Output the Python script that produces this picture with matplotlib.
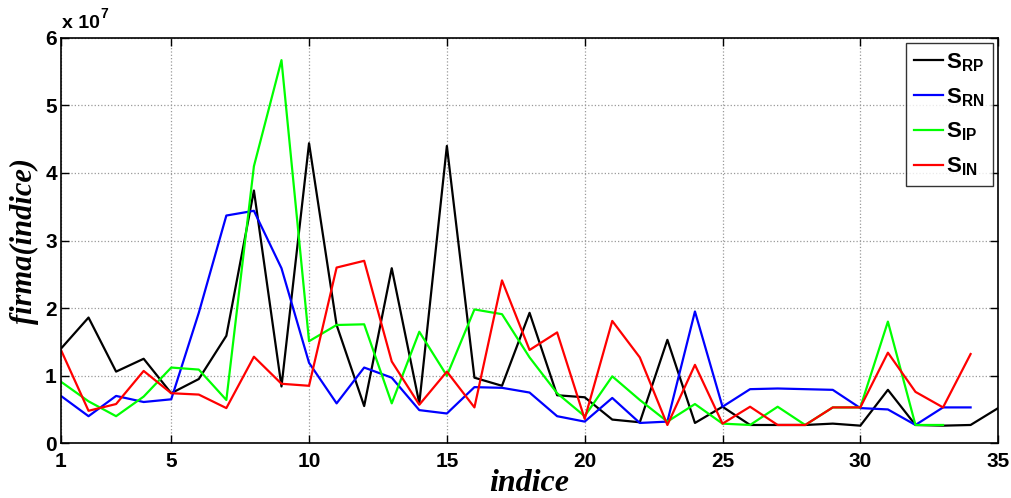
import numpy as np
import matplotlib.pyplot as plt
from matplotlib.ticker import FuncFormatter

plt.rcParams['font.family'] = ['Liberation Sans', 'DejaVu Sans']
plt.rcParams['mathtext.fontset'] = 'custom'
plt.rcParams['mathtext.rm'] = 'Liberation Sans:bold'
plt.rcParams['mathtext.bf'] = 'Liberation Sans:bold'
plt.rcParams['mathtext.it'] = 'Liberation Sans:bold'

SCALE = 1e7

# values (units of 1e7)
s_rp = np.array([1.40, 1.86, 1.06, 1.25, 0.74, 0.95, 1.59, 3.74, 0.84, 4.44,
                 1.75, 0.55, 2.59, 0.59, 4.40, 0.97, 0.85, 1.93, 0.71, 0.68,
                 0.35, 0.31, 1.53, 0.30, 0.54, 0.27, 0.27, 0.27, 0.29, 0.26,
                 0.79, 0.27, 0.26, 0.27, 0.52]) * SCALE
s_rn = np.array([0.70, 0.40, 0.70, 0.61, 0.65, 1.93, 3.37, 3.44, 2.59, 1.19,
                 0.59, 1.12, 0.97, 0.49, 0.44, 0.83, 0.82, 0.75, 0.40, 0.32,
                 0.67, 0.30, 0.32, 1.95, 0.54, 0.80, 0.81, 0.80, 0.79, 0.52,
                 0.50, 0.27, 0.53, 0.53]) * SCALE
s_ip = np.array([0.91, 0.62, 0.40, 0.69, 1.12, 1.09, 0.64, 4.10, 5.67, 1.51,
                 1.75, 1.76, 0.59, 1.65, 1.00, 1.98, 1.91, 1.27, 0.74, 0.40,
                 0.99, 0.64, 0.32, 0.58, 0.29, 0.27, 0.54, 0.27, 0.53, 0.53,
                 1.80, 0.27, 0.27]) * SCALE
s_in = np.array([1.38, 0.48, 0.58, 1.07, 0.74, 0.72, 0.52, 1.28, 0.88, 0.85,
                 2.60, 2.70, 1.21, 0.57, 1.06, 0.53, 2.41, 1.38, 1.64, 0.36,
                 1.81, 1.27, 0.27, 1.16, 0.29, 0.54, 0.27, 0.27, 0.53, 0.53,
                 1.34, 0.76, 0.53, 1.32]) * SCALE

labels = [r'$\mathrm{S_{RP}}$', r'$\mathrm{S_{RN}}$', r'$\mathrm{S_{IP}}$', r'$\mathrm{S_{IN}}$']
colors = ['k', 'b', '#00ff00', 'r']
x_ticks = [1, 5, 10, 15, 20, 25, 30, 35]
y_ticks = [0, 1, 2, 3, 4, 5, 6]

fig = plt.figure(figsize=(10.11, 4.98), dpi=100)
ax = fig.add_axes([0.0603, 0.110, 0.927, 0.814])

for series, lab, col in zip([s_rp, s_rn, s_ip, s_in], labels, colors):
    ax.plot(np.arange(1, len(series) + 1), series, color=col, linewidth=1.6, label=lab)

ax.set_xlim(1, 35)
ax.set_ylim(0, 6 * SCALE)
ax.set_xticks(x_ticks)
ax.set_yticks([v * SCALE for v in y_ticks])
ax.yaxis.set_major_formatter(FuncFormatter(lambda v, p: f'{v / SCALE:.0f}'))
ax.grid(True, linestyle=':', color='#999999', linewidth=0.9)
ax.tick_params(direction='in', top=True, right=True, length=6, width=1,
               labelsize=15, pad=3)
ax.tick_params(axis='x', pad=6)
for lbl in ax.get_xticklabels() + ax.get_yticklabels():
    lbl.set_fontweight('bold')
for sp in ax.spines.values():
    sp.set_linewidth(1.2)

ax.set_xlabel('indice', family='Liberation Serif', style='italic', weight='bold',
              fontsize=23, labelpad=-1)
ax.set_ylabel('firma(indice)', family='Liberation Serif', style='italic', weight='bold',
              fontsize=22, labelpad=4)

fig.text(0.061, 0.935, 'x 10', fontsize=14, weight='bold', ha='left', va='bottom')
fig.text(0.099, 0.958, '7', fontsize=10, weight='bold', ha='left', va='bottom')

leg = ax.legend(loc='upper right', fontsize=16, frameon=True, fancybox=False,
                edgecolor='k', handlelength=1.3, borderaxespad=0.25,
                labelspacing=0.55, handletextpad=0.15, borderpad=0.35)
leg.get_frame().set_linewidth(1.0)

fig.savefig('out.png', dpi=100)
